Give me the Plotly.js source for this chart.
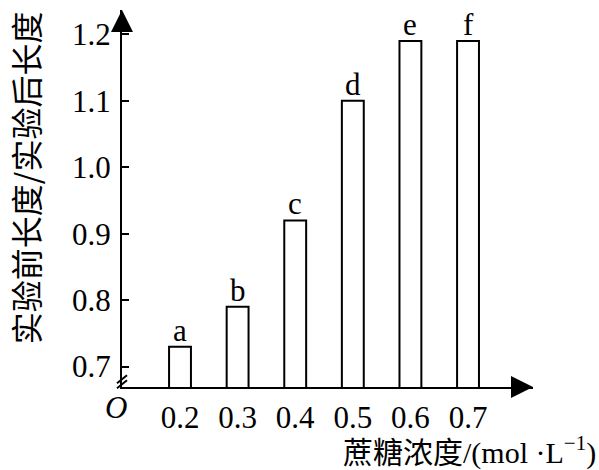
<!DOCTYPE html>
<html>
<head>
<meta charset="utf-8">
<script src="https://cdn.plot.ly/plotly-3.0.1.min.js"></script>
<style>
  html, body { margin: 0; padding: 0; background: #fff; }
  #chart { width: 599px; height: 470px; }
</style>
</head>
<body>
<div id="chart"></div>
<script>
// Sucrose concentration (mol/L) and length ratio before/after treatment
const concentrations = [0.2, 0.3, 0.4, 0.5, 0.6, 0.7];
const lengthRatios = [0.73, 0.79, 0.92, 1.10, 1.19, 1.19];
const groupLabels = ['a', 'b', 'c', 'd', 'e', 'f'];
const yTickValues = [0.7, 0.8, 0.9, 1.0, 1.1, 1.2];

const serif = 'Liberation Serif, "Noto Sans CJK SC", serif';
const cjk = '"Noto Sans CJK SC", sans-serif';

const bars = {
  type: 'bar',
  x: concentrations,
  y: lengthRatios,
  width: concentrations.map(() => 0.038),
  marker: { color: '#ffffff', line: { color: '#000000', width: 2 } },
  hoverinfo: 'skip'
};

// letter markers sitting above each bar
const letterNotes = concentrations.map((c, i) => ({
  x: c, y: lengthRatios[i], xref: 'x', yref: 'y',
  text: groupLabels[i], showarrow: false,
  xanchor: 'center', yanchor: 'bottom', yshift: -3,
  font: { family: serif, size: 31, color: '#000' }
}));

// arrowheads at the ends of both axes
const axisArrows = [
  { xref: 'paper', yref: 'paper', x: 1, y: 0, ax: -24, ay: 0, text: ' ',
    showarrow: true, arrowhead: 2, arrowsize: 2.2, arrowwidth: 2, arrowcolor: '#000' },
  { xref: 'paper', yref: 'paper', x: 0, y: 1, ax: 0, ay: 24, text: ' ',
    showarrow: true, arrowhead: 2, arrowsize: 2.2, arrowwidth: 2, arrowcolor: '#000' }
];

const textNotes = [
  { xref: 'paper', yref: 'paper', x: -0.0146, y: -0.054, text: 'O', showarrow: false,
    xanchor: 'center', yanchor: 'middle',
    font: { family: 'Liberation Serif, serif', size: 31, color: '#000', style: 'italic' } },
  { xref: 'paper', yref: 'paper', x: 1.158, y: -0.168, showarrow: false,
    xanchor: 'right', yanchor: 'middle',
    text: '蔗糖浓度/(mol ·L<sup>−1</sup>)',
    font: { family: serif, size: 30, color: '#000' } },
  { xref: 'paper', yref: 'paper', x: -0.236, y: 0.554, showarrow: false,
    xanchor: 'center', yanchor: 'middle', textangle: -90,
    text: '实验前长度/实验后长度',
    font: { family: cjk, size: 32, color: '#000' } }
];

// axis break marks near the origin of the y axis
const breakMarks = [0, 5].map(dy => ({
  type: 'line', xref: 'paper', yref: 'paper',
  xsizemode: 'pixel', ysizemode: 'pixel', xanchor: 0, yanchor: 0.0204,
  x0: -5, x1: 5, y0: -4 - dy, y1: 4 - dy,
  line: { color: '#000', width: 2 }
}));

const layout = {
  width: 599, height: 470,
  margin: { l: 122, r: 66, t: 10, b: 83 },
  paper_bgcolor: '#fff', plot_bgcolor: '#fff',
  showlegend: false,
  xaxis: {
    range: [0.0993, 0.8128],
    tickvals: concentrations,
    ticktext: concentrations.map(v => v.toFixed(1)),
    ticks: '', showgrid: false, zeroline: false,
    showline: true, linecolor: '#000', linewidth: 2,
    tickfont: { family: serif, size: 31, color: '#000' },
    ticklabelstandoff: 2
  },
  yaxis: {
    range: [0.6693, 1.2366],
    tickvals: yTickValues,
    ticktext: yTickValues.map(v => v.toFixed(1)),
    ticks: 'inside', ticklen: 7, tickwidth: 2, tickcolor: '#000',
    showgrid: false, zeroline: false,
    showline: true, linecolor: '#000', linewidth: 2,
    tickfont: { family: serif, size: 31, color: '#000' },
    ticklabelstandoff: 3
  },
  shapes: breakMarks,
  annotations: letterNotes.concat(axisArrows, textNotes)
};

Plotly.newPlot('chart', [bars], layout, { displayModeBar: false, staticPlot: true });
</script>
</body>
</html>
